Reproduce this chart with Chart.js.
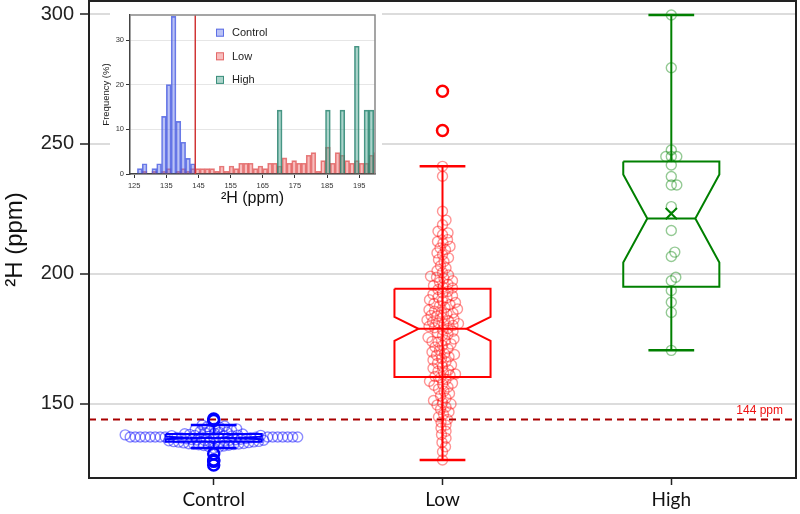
<!DOCTYPE html>
<html><head><meta charset="utf-8">
<script src="https://cdn.jsdelivr.net/npm/chart.js"></script>
<style>
html,body{margin:0;padding:0;background:#fff;}
#wrap{position:relative;width:800px;height:514px;overflow:hidden;}
#main{position:absolute;left:0;top:0;}
#inset{position:absolute;left:98px;top:3px;}
</style></head><body>
<div id="wrap">
<canvas id="main" width="800" height="514"></canvas>
<canvas id="inset" width="284" height="209"></canvas>
</div>
<script>
// ---------------- DATA ----------------
const categories = ['Control', 'Low', 'High'];
const yTickValues = [150, 200, 250, 300];
const thresholdPpm = 144;
const thresholdLabel = '144 ppm';

const q1Values = [135.4, 160.4, 195.1];
const medianValues = [136.9, 178.9, 221.3];
const q3Values = [138.4, 194.3, 243.3];
const notchLowValues = [136.4, 174.3, 204.4];
const notchHighValues = [137.4, 183.5, 238.3];
const whiskerLowValues = [133.0, 128.4, 170.6];
const whiskerHighValues = [141.9, 241.4, 299.6];
const meanValues = [null, null, 223.2];

const controlPoints = [
  133.0, 133.3,
  133.6, 133.8, 134.0, 134.1, 134.3, 134.4, 134.5, 134.6, 134.7, 134.8, 134.9,
  135.0, 135.1, 135.2, 135.3, 135.4, 135.5, 135.5, 135.6, 135.7, 135.8, 135.9, 136.0, 136.0, 136.1, 136.2, 136.3, 136.4,
  136.6, 136.7, 136.8, 136.9, 137.0, 137.1, 137.1, 137.2,
  137.3, 137.3, 137.3, 137.3, 137.3, 137.3, 137.3, 137.3, 137.3, 137.3,
  137.3, 137.3, 137.3, 137.3, 137.3, 137.3,
  137.5, 137.6, 137.7, 137.8, 137.9, 137.9,
  138.0, 138.1, 138.3, 138.4, 138.5, 138.7, 138.9, 139.0, 139.2, 139.4,
  139.6, 139.8, 140.1, 140.4, 140.7, 141.0,
  141.2, 141.5, 141.9
];
const lowPoints = [
  241.4, 237.6, 224.1,
  220.7, 218.9, 216.4, 215.8, 215.1, 213.2, 212.5, 211.9, 210.6, 210.0,
  209.3, 208.1, 207.4, 206.2, 205.5, 204.8, 203.1, 202.3, 201.2, 200.5,
  199.6, 199.1, 198.7, 198.2, 197.4, 196.8, 196.0, 195.5, 195.0, 194.6,
  194.0, 193.3, 192.7, 192.2, 191.6, 191.0, 190.9, 190.1, 189.6, 189.0, 188.6, 188.2,
  187.7, 187.1, 186.5, 186.2, 185.7, 185.3, 185.0, 184.6, 184.0, 183.7, 183.1,
  182.6, 182.3, 182.0, 181.5, 181.1, 180.9, 180.6, 180.2, 179.8, 179.3, 179.0,
  178.5, 178.0, 177.4, 176.8, 176.3, 175.6, 175.0, 174.4, 174.0, 173.8, 173.1,
  172.5, 171.9, 171.2, 170.6, 170.0, 169.4, 169.0, 168.7, 168.1, 167.5, 166.9,
  166.2, 165.6, 165.0, 164.4, 163.7, 163.1, 162.6, 162.0, 161.5, 161.0, 160.6,
  160.1, 159.4, 158.7, 158.0, 157.6, 157.2, 156.5, 155.7, 154.9, 154.0, 153.1,
  152.2, 151.3, 150.5, 150.0, 149.6, 148.8, 147.9, 146.9, 146.0, 145.0, 144.0,
  143.0, 141.9, 140.7, 139.5, 138.2, 136.8, 135.2, 133.5, 131.6, 128.4
];
const highPoints = [
  299.6, 279.3, 247.7, 245.2, 245.2, 245.2, 241.9, 237.5, 234.2, 234.2,
  225.9, 216.7, 208.4, 206.7, 198.7, 197.4, 193.6, 189.1, 185.2, 170.6
];
const controlOutliers = [126.5, 127.9, 128.4, 130.8, 143.6, 144.2];
const lowOutliers = [255.2, 270.3];
const highOutliers = [];

// inset histogram
const histTicks = [125, 135, 145, 155, 165, 175, 185, 195];
const histFreqTicks = [0, 10, 20, 30];
const histLegend = ['Control', 'Low', 'High'];
const histBinCenters = [
  126.75, 128.25, 129.75, 131.25, 132.75, 134.25, 135.75, 137.25, 138.75, 140.25,
  141.75, 143.25, 144.75, 146.25, 147.75, 149.25, 150.75, 152.25, 153.75, 155.25,
  156.75, 158.25, 159.75, 161.25, 162.75, 164.25, 165.75, 167.25, 168.75, 170.25,
  171.75, 173.25, 174.75, 176.25, 177.75, 179.25, 180.75, 182.25, 183.75, 185.25,
  186.75, 188.25, 189.75, 191.25, 192.75, 194.25, 195.75, 197.25, 198.75, 200.25
];
const controlFreq = [
  1.2, 2.3, null, 1.2, 2.3, 12.9, 20.0, 35.3, 11.8, 7.1,
  3.5, 2.3, null, null, null, null, null, null, null, null,
  null, null, null, null, null, null, null, null, null, null,
  null, null, null, null, null, null, null, null, null, null,
  null, null, null, null, null, null, null, null, null, null
];
const lowFreq = [
  null, 0.6, null, 0.6, null, 0.6, 1.2, null, 0.6, 1.2,
  0.6, 1.2, 1.2, 1.2, 1.2, 1.2, 0.6, 1.8, 0.6, 1.8,
  1.2, 2.4, 2.4, 2.4, 1.2, 1.8, 1.2, 2.4, 2.4, 1.8,
  3.6, 2.4, 3.0, 2.4, 2.4, 4.2, 4.8, 0.6, 3.0, 6.0,
  2.4, 4.8, 4.2, 3.0, 2.4, 3.0, 2.4, 2.4, 4.2, 4.8
];
const highFreq = [
  null, null, null, null, null, null, null, null, null, null,
  null, null, null, null, null, null, null, null, null, null,
  null, null, null, null, null, null, null, null, null, 14.3,
  null, null, null, null, null, null, null, null, null, 14.3,
  null, null, 14.3, null, null, 28.6, null, 14.3, 14.3, null
];

// ---------------- STYLE / LAYOUT ----------------
const FONT = "'Liberation Sans', Arial, sans-serif";
Chart.defaults.font.family = FONT;
Chart.defaults.animation = false;

const X_MIN = 0.455, X_MAX = 3.545;
const Y_MIN = 121.5, Y_MAX = 305;
const BOX_HALF = 0.21, NOTCH_HALF = 0.105, CAP_HALF = 0.1;
const lineColors = ['#0000ff', '#ff0000', '#008000'];
const pointColors = ['rgba(0,0,255,0.45)', 'rgba(255,0,0,0.42)', 'rgba(0,128,0,0.42)'];
const swarmMinDist = [5, 5.6, 5.5];
const whiskerThroughBox = [false, true, false];

const pointGroups = [controlPoints, lowPoints, highPoints];
const outlierGroups = [controlOutliers, lowOutliers, highOutliers];

function boxOutline(i) {
  const c = i + 1;
  return [
    {x: c - BOX_HALF, y: q3Values[i]}, {x: c + BOX_HALF, y: q3Values[i]},
    {x: c + BOX_HALF, y: notchHighValues[i]}, {x: c + NOTCH_HALF, y: medianValues[i]},
    {x: c + BOX_HALF, y: notchLowValues[i]}, {x: c + BOX_HALF, y: q1Values[i]},
    {x: c - BOX_HALF, y: q1Values[i]}, {x: c - BOX_HALF, y: notchLowValues[i]},
    {x: c - NOTCH_HALF, y: medianValues[i]}, {x: c - BOX_HALF, y: notchHighValues[i]},
    {x: c - BOX_HALF, y: q3Values[i]}
  ];
}
function whiskers(i) {
  const c = i + 1;
  if (whiskerThroughBox[i]) {
    return [{x: c, y: whiskerLowValues[i]}, {x: c, y: whiskerHighValues[i]}];
  }
  return [{x: c, y: q3Values[i]}, {x: c, y: whiskerHighValues[i]}, {x: c, y: null},
          {x: c, y: q1Values[i]}, {x: c, y: whiskerLowValues[i]}];
}
function caps(i) {
  const c = i + 1;
  return [{x: c - CAP_HALF, y: whiskerHighValues[i]}, {x: c + CAP_HALF, y: whiskerHighValues[i]},
          {x: c, y: null},
          {x: c - CAP_HALF, y: whiskerLowValues[i]}, {x: c + CAP_HALF, y: whiskerLowValues[i]}];
}
function medianLine(i) {
  const c = i + 1;
  return [{x: c - NOTCH_HALF, y: medianValues[i]}, {x: c + NOTCH_HALF, y: medianValues[i]}];
}

const datasets = [];
const lineBase = {type: 'line', showLine: true, pointRadius: 0, borderWidth: 2, tension: 0, fill: false, spanGaps: false};
datasets.push(Object.assign({}, lineBase, {
  data: [{x: X_MIN, y: thresholdPpm}, {x: X_MAX, y: thresholdPpm}],
  borderColor: '#a80000', borderDash: [7, 5], order: 5
}));
const swarmIndex = [];
categories.forEach((cat, i) => {
  swarmIndex.push(datasets.length);
  datasets.push({type: 'scatter', data: [], pointRadius: 5, pointHoverRadius: 5,
    pointBorderWidth: 1.4, pointBorderColor: pointColors[i], pointBackgroundColor: 'rgba(0,0,0,0)', order: 4});
});
categories.forEach((cat, i) => {
  const col = lineColors[i];
  datasets.push(Object.assign({}, lineBase, {data: boxOutline(i), borderColor: col, order: 2}));
  datasets.push(Object.assign({}, lineBase, {data: medianLine(i), borderColor: col, order: 2}));
  datasets.push(Object.assign({}, lineBase, {data: whiskers(i), borderColor: col, order: 2}));
  datasets.push(Object.assign({}, lineBase, {data: caps(i), borderColor: col, borderWidth: 2.5, order: 2}));
  if (outlierGroups[i].length) {
    datasets.push({type: 'scatter', data: outlierGroups[i].map(v => ({x: i + 1, y: v})),
      pointRadius: 5.5, pointBorderWidth: 2.5, pointBorderColor: col, pointBackgroundColor: 'rgba(0,0,0,0)', order: 1});
  }
  if (meanValues[i] !== null) {
    datasets.push({type: 'scatter', data: [{x: i + 1, y: meanValues[i]}], pointStyle: 'crossRot',
      pointRadius: 8, pointBorderWidth: 2, pointBorderColor: col, order: 1});
  }
});

const mainDecor = {
  id: 'mainDecor',
  afterDatasetsDraw(chart) {
    const {ctx, chartArea: a, scales: {y}} = chart;
    ctx.save();
    ctx.font = '12px ' + FONT;
    ctx.fillStyle = '#ee1111';
    ctx.textAlign = 'right';
    ctx.textBaseline = 'alphabetic';
    ctx.fillText(thresholdLabel, a.right - 13, y.getPixelForValue(thresholdPpm) - 6);
    ctx.restore();
  },
  afterDraw(chart) {
    const {ctx, chartArea: a} = chart;
    ctx.save();
    ctx.strokeStyle = '#222';
    ctx.lineWidth = 2;
    ctx.strokeRect(a.left, a.top, a.right - a.left, a.bottom - a.top);
    ctx.restore();
  }
};

const mainChart = new Chart(document.getElementById('main'), {
  type: 'scatter',
  data: {datasets},
  plugins: [mainDecor],
  options: {
    responsive: false,
    animation: false,
    layout: {autoPadding: false, padding: {top: 1, right: 4, left: 0, bottom: 0}},
    plugins: {legend: {display: false}, tooltip: {enabled: false}},
    scales: {
      x: {
        type: 'linear', min: X_MIN, max: X_MAX,
        afterBuildTicks: s => { s.ticks = categories.map((_, i) => ({value: i + 1})); },
        afterFit: s => { s.height = 36; s.paddingLeft = 0; s.paddingRight = 0; },
        ticks: {callback: v => categories[v - 1], font: {family: "Lato, 'Liberation Sans', sans-serif", size: 19},
                color: '#111', padding: 3, maxRotation: 0, autoSkip: false},
        grid: {drawOnChartArea: false, tickLength: 7, tickColor: '#222', tickWidth: 1.5},
        border: {color: '#222', width: 2}
      },
      y: {
        type: 'linear', min: Y_MIN, max: Y_MAX,
        afterBuildTicks: s => { s.ticks = yTickValues.map(v => ({value: v})); },
        afterFit: s => { s.width = 89; s.paddingTop = 0; s.paddingBottom = 0; },
        ticks: {font: {size: 20}, color: '#222', padding: 6},
        grid: {color: '#dcdcdc', lineWidth: 2, tickLength: 9, tickColor: '#222', tickWidth: 1.5},
        border: {color: '#222', width: 2},
        title: {display: true, text: '²H (ppm)', font: {size: 24}, color: '#111', padding: {top: 1, bottom: 0}}
      }
    }
  }
});

// beeswarm placement using the chart's own scales
function swarm(values, center, minDist, xs, ys) {
  const cx = xs.getPixelForValue(center);
  const idx = values.map((v, i) => i).sort((a, b) => values[a] - values[b]);
  const placed = [];
  const out = new Array(values.length);
  const d2 = minDist * minDist;
  for (const i of idx) {
    const py = ys.getPixelForValue(values[i]);
    let off = 0;
    for (let k = 0; k < 2000; k++) {
      const cand = (k % 2 === 1 ? 1 : -1) * Math.ceil(k / 2) * 0.5;
      let ok = true;
      for (const p of placed) {
        const dx = p.x - cand, dy = p.y - py;
        if (dx * dx + dy * dy < d2) { ok = false; break; }
      }
      if (ok) { off = cand; break; }
    }
    placed.push({x: off, y: py});
    out[i] = {x: xs.getValueForPixel(cx + off), y: values[i]};
  }
  return out;
}
(function layoutSwarm() {
  const xs = mainChart.scales.x, ys = mainChart.scales.y;
  pointGroups.forEach((vals, i) => {
    mainChart.data.datasets[swarmIndex[i]].data = swarm(vals, i + 1, swarmMinDist[i], xs, ys);
  });
  mainChart.update('none');
})();

// ---------------- INSET ----------------
const HIST_X_MIN = 123.7, HIST_X_MAX = 199.9, HIST_Y_MAX = 35.6;
const histFill = ['rgba(90,110,230,0.42)', 'rgba(235,90,90,0.40)', 'rgba(70,160,140,0.45)'];
const histStroke = ['rgba(70,90,225,0.8)', 'rgba(220,70,70,0.7)', 'rgba(40,130,110,0.85)'];
function histData(freq) {
  return histBinCenters.map((x, i) => ({x, y: freq[i]})).filter(p => p.y !== null);
}
const barBase = {type: 'bar', borderWidth: 1, barThickness: 4.8, grouped: false, borderSkipped: 'start'};
const insetDecor = {
  id: 'insetDecor',
  beforeDraw(chart) {
    const {ctx, width, height} = chart;
    ctx.save();
    ctx.fillStyle = '#fff';
    ctx.fillRect(12, 0, width - 12, height);
    ctx.restore();
  },
  afterDraw(chart) {
    const {ctx, chartArea: a} = chart;
    ctx.save();
    ctx.strokeStyle = '#888';
    ctx.lineWidth = 1.5;
    ctx.beginPath();
    ctx.moveTo(a.left, a.top); ctx.lineTo(a.right, a.top); ctx.lineTo(a.right, a.bottom);
    ctx.stroke();
    ctx.font = '11px ' + FONT;
    ctx.textAlign = 'left';
    ctx.textBaseline = 'middle';
    histLegend.forEach((label, k) => {
      const cy = a.top + 17.7 + k * 23.6;
      const sx = a.left + 86;
      ctx.fillStyle = histFill[k];
      ctx.fillRect(sx, cy - 4, 8, 8);
      ctx.strokeStyle = histStroke[k];
      ctx.lineWidth = 1;
      ctx.strokeRect(sx + 0.5, cy - 3.5, 7, 7);
      ctx.fillStyle = '#222';
      ctx.fillText(label, a.left + 102, cy + 0.5);
    });
    ctx.restore();
  }
};
new Chart(document.getElementById('inset'), {
  type: 'bar',
  data: {datasets: [
    Object.assign({}, barBase, {label: 'Low', data: histData(lowFreq), backgroundColor: histFill[1], borderColor: histStroke[1], order: 3}),
    Object.assign({}, barBase, {label: 'Control', data: histData(controlFreq), backgroundColor: histFill[0], borderColor: histStroke[0], order: 2}),
    Object.assign({}, barBase, {label: 'High', data: histData(highFreq), backgroundColor: histFill[2], borderColor: histStroke[2], order: 1}),
    {type: 'line', label: 'threshold', data: [{x: thresholdPpm, y: 0}, {x: thresholdPpm, y: HIST_Y_MAX}],
     borderColor: '#d03535', borderWidth: 1.5, pointRadius: 0, order: 0}
  ]},
  plugins: [insetDecor],
  options: {
    responsive: false,
    animation: false,
    layout: {autoPadding: false, padding: {top: 12, right: 7, left: 0, bottom: 0}},
    plugins: {legend: {display: false}, tooltip: {enabled: false}},
    scales: {
      x: {
        type: 'linear', min: HIST_X_MIN, max: HIST_X_MAX, offset: false,
        afterBuildTicks: s => { s.ticks = histTicks.map(v => ({value: v})); },
        afterFit: s => { s.height = 38; s.paddingLeft = 0; s.paddingRight = 0; },
        ticks: {font: {size: 7.5}, color: '#333', padding: 3, maxRotation: 0, autoSkip: false},
        grid: {drawOnChartArea: false, offset: false, tickLength: 4, tickColor: '#333'},
        border: {color: '#444', width: 1.5},
        title: {display: true, text: '²H (ppm)', font: {size: 16}, color: '#111', padding: {top: 0, bottom: 4}}
      },
      y: {
        type: 'linear', min: 0, max: HIST_Y_MAX,
        afterBuildTicks: s => { s.ticks = histFreqTicks.map(v => ({value: v})); },
        afterFit: s => { s.width = 32; s.paddingTop = 0; s.paddingBottom = 0; },
        ticks: {font: {size: 7.5}, color: '#333', padding: 2},
        grid: {color: '#e6e6e6', lineWidth: 1, tickLength: 4, tickColor: '#333'},
        border: {color: '#444', width: 1.5},
        title: {display: true, text: 'Frequency (%)', font: {size: 9.5}, color: '#222', padding: {top: 3, bottom: 0}}
      }
    }
  }
});
</script>
</body></html>
